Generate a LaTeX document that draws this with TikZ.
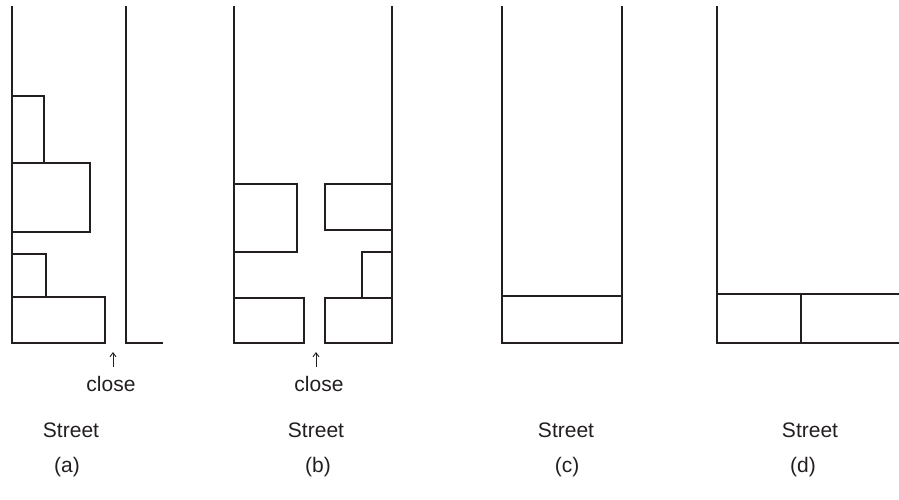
\documentclass[tikz,border=0pt]{standalone}
\usepackage{fontspec}
\setmainfont{Liberation Sans}
\usetikzlibrary{arrows.meta}
\definecolor{ink}{RGB}{35,31,32}
\begin{document}
\begin{tikzpicture}[x=1pt,y=-1pt,
  wall/.style={line width=2.3pt, line join=miter, draw=ink},
  lbl/.style={font=\fontsize{21}{25}\selectfont, inner sep=0pt, text=ink},
  pointer/.style={line width=0.9pt, draw=ink, -{Straight Barb[length=4pt,width=6pt]}}]
\useasboundingbox (0,0) rectangle (899,499);

% (a) one-sided row of lots, gap at the far side
\draw[wall] (12,6) -- (12,343);
\draw[wall] (12,96) rectangle (44,163);
\draw[wall] (12,163) rectangle (90,232);
\draw[wall] (12,254) rectangle (46,297);
\draw[wall] (12,297) rectangle (105,343);
\draw[wall] (126,6) -- (126,343) -- (163,343);
\node[lbl] (closeA) at (111,384) {close};
\coordinate (tipA) at (113,352);
\draw[pointer] (113,367) -- (tipA);
\node[lbl] (streetA) at (71,430) {Street};
\node[lbl] (capA) at (67,467) {(a)};

% (b) lots on both sides with a central passage
\draw[wall] (234,6) -- (234,343);
\draw[wall] (392,6) -- (392,343);
\draw[wall] (234,184) rectangle (297,252);
\draw[wall] (234,298) rectangle (304,343);
\draw[wall] (325,184) rectangle (392,230);
\draw[wall] (362,252) rectangle (392,298);
\draw[wall] (325,298) rectangle (392,343);
\node[lbl] (closeB) at (319,384) {close};
\coordinate (tipB) at (316,352);
\draw[pointer] (316,367) -- (tipB);
\node[lbl] (streetB) at (316,430) {Street};
\node[lbl] (capB) at (318,467) {(b)};

% (c) single lot closing the strip
\draw[wall] (502,6) -- (502,343);
\draw[wall] (622,6) -- (622,343);
\draw[wall] (502,296) rectangle (622,343);
\node[lbl] (streetC) at (566,430) {Street};
\node[lbl] (capC) at (567,467) {(c)};

% (d) open strip with two lots along the street
\draw[wall] (717,6) -- (717,343) -- (899,343);
\draw[wall] (717,294) -- (899,294);
\draw[wall] (801,294) -- (801,343);
\node[lbl] (streetD) at (810,430) {Street};
\node[lbl] (capD) at (803,467) {(d)};
\end{tikzpicture}
\end{document}
